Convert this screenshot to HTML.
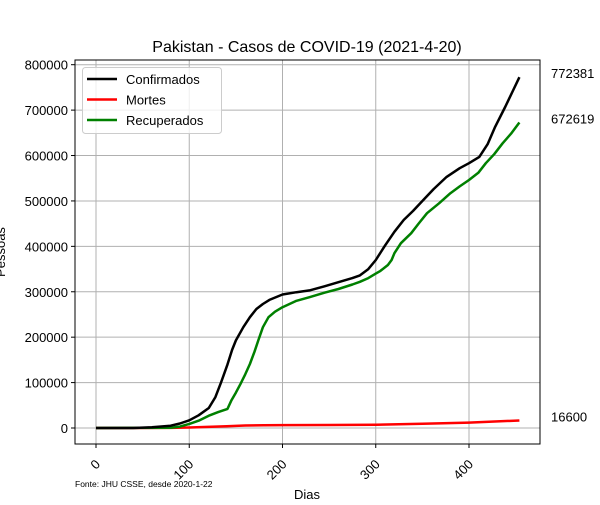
<!DOCTYPE html>
<html><head><meta charset="utf-8"><style>
body{margin:0;background:#fff}
svg{font-family:"Liberation Sans","DejaVu Sans",sans-serif}
</style></head><body>
<svg id="c" width="600" height="500" xmlns="http://www.w3.org/2000/svg"></svg>
<script>
const days=[0,40,60,80,90,100,110,121,128,134,141,146,150,158,165,172,179,186,200,215,229,245,260,275,283,292,300,310,320,330,340,351,362,376,390,400,411,420,428,439,447,454];
const confirmed=[0,100,1500,5000,10000,17000,28000,44000,68000,100000,140000,172000,193000,222000,244000,262000,273000,282000,294000,299000,303000,312000,321000,330000,336000,350000,370000,402000,432000,458000,478000,502000,526000,553000,572000,583000,597000,625000,663000,708000,742000,772381];
const recDays=[0,80,90,100,110,121,131,141,145,150,155,160,165,170,174,179,185,192,200,215,229,245,260,275,283,292,300,305,313,317,320,327,338,346,355,368,380,390,400,410,418,427,436,445,454];
const recovered=[0,500,3000,9000,16000,27000,35000,42000,60000,78000,97000,118000,141000,168000,193000,222000,244000,256000,266000,280000,288000,298000,306000,316000,322000,330000,340000,346000,359000,370000,385000,407000,429000,450000,473000,495000,517000,532000,546000,562000,583000,603000,627000,648000,672619];
const deathDays=[0,80,100,120,140,160,180,200,250,300,350,400,454];
const deaths=[0,200,1000,2500,4000,5500,6000,6300,6600,7000,9500,12000,16600];
const xTicks=[0,100,200,300,400];
const yTicks=[0,100000,200000,300000,400000,500000,600000,700000,800000];
const NS="http://www.w3.org/2000/svg";
const svg=document.getElementById('c');
const L=75,R=540,T=60,B=444;
const X=d=>96+d*0.9325;
const Y=v=>428-v*(428-64.7)/800000;
function el(t,a,txt){const e=document.createElementNS(NS,t);for(const k in a)e.setAttribute(k,a[k]);if(txt!==undefined)e.textContent=txt;svg.appendChild(e);return e;}
let e;
e=el('text',{x:307,y:52,'text-anchor':'middle','font-size':16},'Pakistan - Casos de COVID-19 (2021-4-20)');


xTicks.forEach(t=>{
 e=el('line',{x1:X(t),x2:X(t),y1:T,y2:B,stroke:'#b0b0b0','stroke-width':1});
 
 
 el('line',{x1:X(t),x2:X(t),y1:B,y2:B+4,stroke:'#000'});
 e=el('text',{x:X(t)+5,y:B+21,'text-anchor':'end','font-size':13,transform:`rotate(-45 ${X(t)+5} ${B+21})`},String(t));
 
 
});
yTicks.forEach(t=>{
 e=el('line',{x1:L,x2:R,y1:Y(t),y2:Y(t),stroke:'#b0b0b0','stroke-width':1});
 
 
 el('line',{x1:L-4,x2:L,y1:Y(t),y2:Y(t),stroke:'#000'});
 e=el('text',{x:L-7,y:Y(t)+5,'text-anchor':'end','font-size':13},String(t));
 
 
});
function line(ds,vs,col,name){
 const p=ds.map((d,i)=>X(d).toFixed(1)+','+Y(vs[i]).toFixed(1)).join(' ');
 const e=el('polyline',{points:p,fill:'none',stroke:col,'stroke-width':2.5,'stroke-linejoin':'round'});
 
 
}
line(deathDays,deaths,'#ff0000','deaths-line');
line(recDays,recovered,'#008000','recovered-line');
line(days,confirmed,'#000','confirmed-line');
e=el('rect',{x:L,y:T,width:R-L,height:B-T,fill:'none',stroke:'#000','stroke-width':1});


[[confirmed[confirmed.length-1],'end-label-confirmed'],[recovered[recovered.length-1],'end-label-recovered'],[deaths[deaths.length-1],'end-label-deaths']].forEach(([v,n])=>{
 e=el('text',{x:551,y:Y(v)+1,'font-size':13},String(v));
 
 
});
e=el('text',{x:307,y:499,'text-anchor':'middle','font-size':13},'Dias');


e=el('text',{x:5,y:252,'text-anchor':'middle','font-size':13,transform:'rotate(-90 5 252)'},'Pessoas');


e=el('text',{x:75,y:487,'font-size':8.5},'Fonte: JHU CSSE, desde 2020-1-22');


e=el('rect',{x:82.5,y:67.5,width:139,height:66,rx:3,fill:'#fff','fill-opacity':0.8,stroke:'#ccc'});


[['Confirmados','#000'],['Mortes','#ff0000'],['Recuperados','#008000']].forEach(([t,c],i)=>{
 const y=79+i*20.5;
 el('line',{x1:87,x2:117,y1:y,y2:y,stroke:c,'stroke-width':2.5});
 e=el('text',{x:126,y:y+5,'font-size':13},t);
 
 
});
</script>
</body></html>
